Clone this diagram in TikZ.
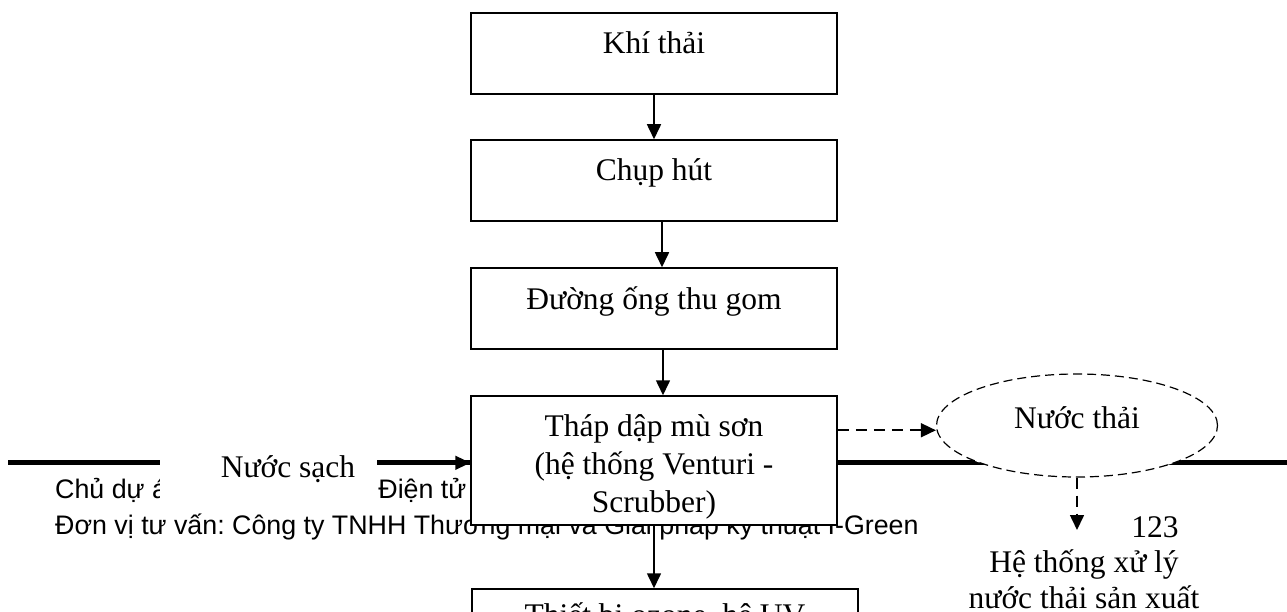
\documentclass[tikz,border=0pt]{standalone}
\usepackage{fontspec}
\setmainfont{Liberation Serif}
\newfontfamily\arialfont{Liberation Sans}
\usetikzlibrary{arrows.meta,shapes.geometric}
\frenchspacing

\begin{document}
\begin{tikzpicture}[x=1pt,y=-1pt,
        box/.style={draw,line width=1.5pt,fill=white,inner sep=0pt,minimum width=366pt,font=\fontsize{31.5}{38}\selectfont},
        onebox/.style={box,text height=41pt,text depth=40pt},
        arr/.style={line width=1.6pt,-{Triangle[length=15pt,width=14pt]}},
        darr/.style={arr,dash pattern=on 11pt off 7pt},
        txt/.style={inner sep=0pt,font=\fontsize{31.5}{36}\selectfont},
        foot/.style={inner sep=0pt,anchor=base west,font=\arialfont\fontsize{26.8}{32}\selectfont}]
    \useasboundingbox (0,0) rectangle (1287,612);
    \clip (0,0) rectangle (1287,612);

    \draw[line width=5pt] (8,462) -- (1287,462);
    \node[foot] (chu) at (55,498) {Chủ dự án: Công ty TNHH Điện tử};
    \node[foot] (donvi) at (55,534) {Đơn vị tư vấn: Công ty TNHH Thương mại và Giải pháp kỹ thuật I-Green};
    \node[txt,fill=white,inner xsep=22pt,text height=32pt,text depth=31pt] (nuoc) at (268.5,476.5) {\hspace*{39pt}Nước sạch};

    \node[onebox] (khi) at (654,53.5) {Khí thải};
    \node[onebox] (chup) at (654,180.5) {Chụp hút};
    \node[onebox] (duong) at (654,308.5) {Đường ống thu gom};
    \node[box,minimum height=129pt,align=center] (thap) at (654,460.5)
        {\rule{0pt}{40pt}Tháp dập mù sơn\\(hệ thống Venturi -\\Scrubber)\rule[-13pt]{0pt}{13pt}};
    \node[onebox,minimum width=386pt,text height=36pt] (uv) at (665,627) {Thiết bị ozone, hệ UV};

    \node[txt,ellipse,draw,line width=1.2pt,dash pattern=on 9pt off 5pt,fill=white,
        minimum width=281pt,minimum height=103pt,text height=12pt,text depth=7pt] (thai) at (1077,425.5) {Nước thải};
    \node[txt,anchor=base] (so) at (1155,537) {123};
    \node[txt,align=center,anchor=north] (xuly) at (1084,530) {\rule{0pt}{42pt}Hệ thống xử lý\\nước thải sản xuất};

    \draw[arr] (khi.south) -- (chup.north);
    \draw[arr] ([xshift=8pt]chup.south) -- ([xshift=8pt]duong.north);
    \draw[arr] ([xshift=9pt]duong.south) -- ([xshift=9pt]thap.north);
    \draw[arr] (thap.south) -- (thap.south |- uv.north);
    \draw[arr] ([yshift=-18pt]nuoc.north east) -- ([yshift=-18pt]nuoc.north east -| thap.west);
    \draw[darr] ([yshift=-35pt]thap.north east) -- ([yshift=-35pt]thap.north east -| thai.west);
    \draw[darr] (thai.south) -- (thai.south |- xuly.north);
\end{tikzpicture}
\end{document}
